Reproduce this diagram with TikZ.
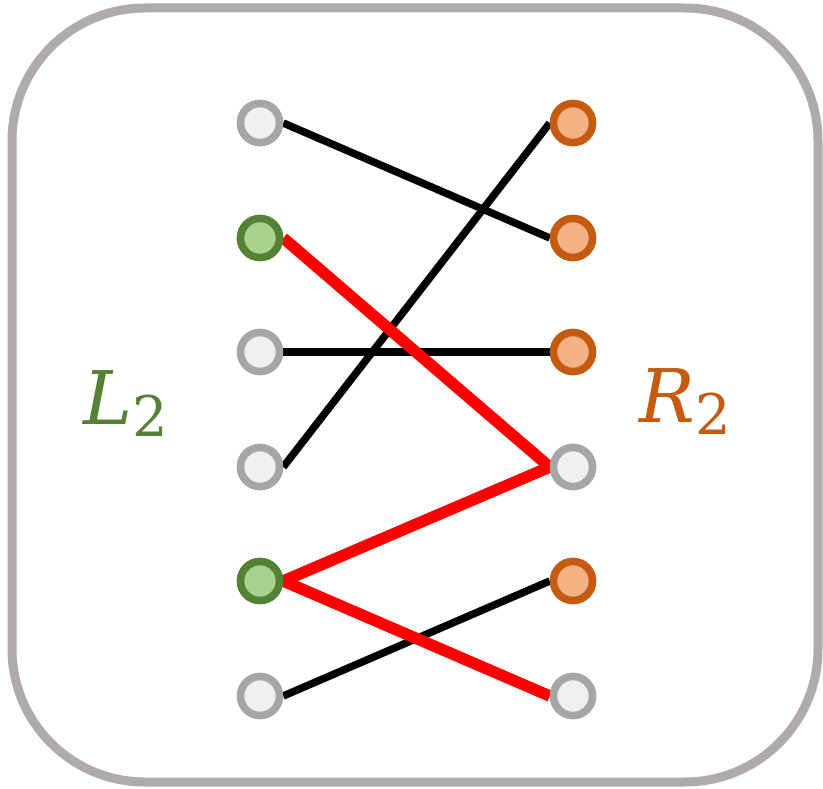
\documentclass[tikz,border=0pt]{standalone}
\usepackage{fontspec}
\setmainfont{DejaVu Serif}
\definecolor{boxgray}{HTML}{AFABAB}
\definecolor{ngray}{HTML}{A6A6A6}
\definecolor{ngrayfill}{HTML}{F0F0F0}
\definecolor{ngreen}{HTML}{548235}
\definecolor{ngreenfill}{HTML}{A9D18E}
\definecolor{norange}{HTML}{C55A11}
\definecolor{norangefill}{HTML}{F4B183}
\tikzset{
  vtx/.style={circle, minimum size=39pt, inner sep=0pt, line width=7.5pt},
  gv/.style={vtx, draw=ngray, fill=ngrayfill},
  lv/.style={vtx, draw=ngreen, fill=ngreenfill},
  rv/.style={vtx, draw=norange, fill=norangefill},
  blk/.style={line width=7.5pt, black},
  redl/.style={line width=11.5pt, red},
}
\begin{document}
\begin{tikzpicture}[x=1pt,y=-1pt]
\useasboundingbox (0,0) rectangle (823,789);
\draw[boxgray, line width=9pt, rounded corners=133pt] (12,8) rectangle (818,782);
% nodes
\node[gv] (l1) at (260,123) {};
\node[lv] (l2) at (260,238) {};
\node[gv] (l3) at (260,352) {};
\node[gv] (l4) at (260,467) {};
\node[lv] (l5) at (260,581) {};
\node[gv] (l6) at (260,696) {};
\node[rv] (r1) at (573,123) {};
\node[rv] (r2) at (573,238) {};
\node[rv] (r3) at (573,352) {};
\node[gv] (r4) at (573,467) {};
\node[rv] (r5) at (573,581) {};
\node[gv] (r6) at (573,696) {};
% edges
\draw[blk] (l1.east) -- (r2.west);
\draw[blk] (l3.east) -- (r3.west);
\draw[blk] (l4.east) -- (r1.west);
\draw[blk] (l6.east) -- (r5.west);
\draw[redl] (l2.east) -- (r4.west);
\draw[redl] (l5.east) -- (r4.west);
\draw[redl] (l5.east) -- (r6.west);
% redraw nodes on top
\node[gv] at (l1) {};
\node[lv] at (l2) {};
\node[gv] at (l3) {};
\node[gv] at (l4) {};
\node[lv] at (l5) {};
\node[gv] at (l6) {};
\node[rv] at (r1) {};
\node[rv] at (r2) {};
\node[rv] at (r3) {};
\node[gv] at (r4) {};
\node[rv] at (r5) {};
\node[gv] at (r6) {};
% labels
\node[text=ngreen, inner sep=0pt, font=\fontsize{74pt}{80pt}\selectfont] (ll) at (126,404) {\itshape L\raisebox{-12pt}{\fontsize{56pt}{60pt}\selectfont\upshape 2}};
\node[text=norange, inner sep=0pt, font=\fontsize{74pt}{80pt}\selectfont] (rl) at (685,402) {\itshape R\raisebox{-12pt}{\fontsize{56pt}{60pt}\selectfont\upshape 2}};
\end{tikzpicture}
\end{document}
